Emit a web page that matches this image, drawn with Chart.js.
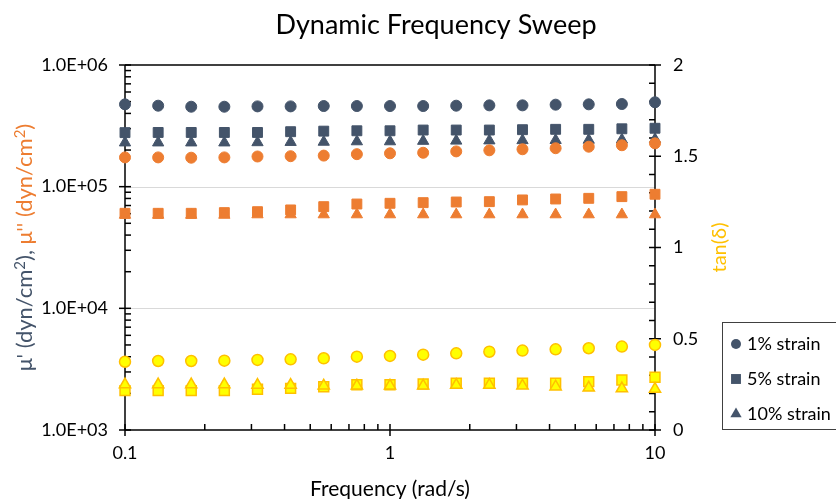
<!DOCTYPE html>
<html><head><meta charset="utf-8">
<script src="https://cdn.jsdelivr.net/npm/chart.js@4"></script>
<style>html,body{margin:0;padding:0;background:#fff;overflow:hidden}#wrap{width:836px;height:499px;position:relative}canvas{display:block}</style>
</head><body><div id="wrap"><canvas id="c" width="836" height="499"></canvas></div>
<script>
// ---- data ----
const frequency = [0.1, 0.1334, 0.1778, 0.2371, 0.3162, 0.4217, 0.5623, 0.7499, 1, 1.334, 1.778, 2.371, 3.162, 4.217, 5.623, 7.499, 10];
const storage1  = [4.75e5, 4.63e5, 4.54e5, 4.54e5, 4.57e5, 4.57e5, 4.6e5, 4.6e5, 4.6e5, 4.6e5, 4.63e5, 4.66e5, 4.66e5, 4.72e5, 4.75e5, 4.78e5, 4.94e5];
const storage5  = [2.78e5, 2.79e5, 2.79e5, 2.79e5, 2.79e5, 2.83e5, 2.86e5, 2.88e5, 2.88e5, 2.92e5, 2.92e5, 2.92e5, 2.94e5, 2.96e5, 2.96e5, 2.99e5, 3.02e5];
const storage10 = [2.3e5, 2.3e5, 2.3e5, 2.3e5, 2.31e5, 2.32e5, 2.33e5, 2.35e5, 2.35e5, 2.37e5, 2.38e5, 2.39e5, 2.4e5, 2.41e5, 2.42e5, 2.43e5, 2.45e5];
const loss1     = [1.74e5, 1.74e5, 1.73e5, 1.74e5, 1.77e5, 1.78e5, 1.8e5, 1.85e5, 1.88e5, 1.9e5, 1.95e5, 1.99e5, 2.03e5, 2.07e5, 2.13e5, 2.19e5, 2.27e5];
const loss5     = [6.04e4, 6.04e4, 6.04e4, 6.12e4, 6.23e4, 6.44e4, 6.85e4, 7.2e4, 7.3e4, 7.39e4, 7.48e4, 7.53e4, 7.78e4, 7.92e4, 8.02e4, 8.28e4, 8.66e4];
const loss10    = [5.85e4, 5.85e4, 5.85e4, 5.85e4, 5.9e4, 5.9e4, 5.9e4, 5.9e4, 5.9e4, 5.9e4, 5.9e4, 5.9e4, 5.9e4, 5.9e4, 5.9e4, 5.9e4, 5.9e4];
const tanDelta1  = [0.374, 0.378, 0.378, 0.38, 0.384, 0.387, 0.393, 0.402, 0.406, 0.413, 0.42, 0.429, 0.435, 0.442, 0.448, 0.457, 0.466];
const tanDelta5  = [0.216, 0.216, 0.216, 0.216, 0.223, 0.228, 0.237, 0.248, 0.248, 0.252, 0.256, 0.256, 0.256, 0.256, 0.265, 0.274, 0.289];
const tanDelta10 = [0.249, 0.249, 0.249, 0.249, 0.246, 0.246, 0.242, 0.242, 0.242, 0.242, 0.246, 0.246, 0.242, 0.237, 0.231, 0.227, 0.224];
const xTicks = [0.1, 1, 10];
const leftTicks = [1e3, 1e4, 1e5, 1e6];
const rightTicks = [0, 0.5, 1, 1.5, 2];
const legendLabels = ['1% strain', '5% strain', '10% strain'];
const chartTitle = 'Dynamic Frequency Sweep';
const xTitle = 'Frequency (rad/s)';
// [text, colour key, superscript?]
const leftTitleParts = [["\u03bc' (dyn/cm", 'blue', false], ['2', 'blue', true], ['), ', 'blue', false],
                        ["\u03bc'' (dyn/cm", 'orange', false], ['2', 'orange', true], [')', 'orange', false]];
const rightTitle = 'tan(\u03b4)';

// ---- styles ----
const BLUE = '#44546A', ORANGE = '#ED7D31', YEL_FILL = '#FFFF00', YEL_LINE = '#FFC000';
const FONT = 'Lato, "Noto Sans", sans-serif';
const styleFor = { circle: 5.5, rect: 7, triangle: 6.5 };

function pts(ys) { return frequency.map((f, i) => ({ x: f, y: ys[i] })); }
function ds(label, ys, axis, shape, fill, line, bw) {
  return { label, data: pts(ys), yAxisID: axis, pointStyle: shape, pointRadius: styleFor[shape],
    pointHoverRadius: styleFor[shape], backgroundColor: fill, borderColor: line, pointBorderWidth: bw,
    borderWidth: bw, showLine: false, clip: false };
}
const seq = [
  ds("μ' 1%", storage1, 'y', 'circle', BLUE, BLUE, 1),
  ds("μ' 5%", storage5, 'y', 'rect', BLUE, BLUE, 1),
  ds("μ' 10%", storage10, 'y', 'triangle', BLUE, BLUE, 1),
  ds("μ'' 1%", loss1, 'y', 'circle', ORANGE, ORANGE, 1),
  ds("μ'' 5%", loss5, 'y', 'rect', ORANGE, ORANGE, 1),
  ds("μ'' 10%", loss10, 'y', 'triangle', ORANGE, ORANGE, 1),
  ds('tan 1%', tanDelta1, 'y2', 'circle', YEL_FILL, YEL_LINE, 1.5),
  ds('tan 5%', tanDelta5, 'y2', 'rect', YEL_FILL, YEL_LINE, 1.5),
  ds('tan 10%', tanDelta10, 'y2', 'triangle', YEL_FILL, YEL_LINE, 1.5)
];
seq.forEach((d, i) => d.order = seq.length - i);

function line(ctx, x1, y1, x2, y2) { ctx.beginPath(); ctx.moveTo(x1, y1); ctx.lineTo(x2, y2); ctx.stroke(); }

const axesPlugin = {
  id: 'axesDraw',
  beforeDatasetsDraw(chart) {
    const { ctx, chartArea: a, scales } = chart;
    const x = scales.x, y = scales.y, y2 = scales.y2;
    ctx.save();
    ctx.strokeStyle = '#D9D9D9'; ctx.lineWidth = 1;
    leftTicks.forEach(v => {
      if (v === leftTicks[0] || v === leftTicks[leftTicks.length - 1]) return;
      const py = Math.round(y.getPixelForValue(v)) + 0.5;
      line(ctx, a.left, py, a.right, py);
    });
    ctx.strokeStyle = '#000'; ctx.lineWidth = 1.5;
    line(ctx, a.left, a.top, a.right, a.top);
    line(ctx, a.left, a.top, a.left, a.bottom);
    line(ctx, a.right, a.top, a.right, a.bottom);
    line(ctx, a.left, a.bottom, a.right, a.bottom);
    for (let d = 0; d < leftTicks.length; d++) {
      const dec = leftTicks[d];
      const py = y.getPixelForValue(dec);
      line(ctx, a.left - 6, py, a.left + 6, py);
      if (d < leftTicks.length - 1) {
        for (let m = 2; m <= 9; m++) { const p = y.getPixelForValue(dec * m); line(ctx, a.left, p, a.left + 6, p); }
      }
    }
    for (let i = 0; i < rightTicks.length; i++) {
      const v = rightTicks[i];
      const py = y2.getPixelForValue(v);
      line(ctx, a.right - 6, py, a.right + 6, py);
      if (i < rightTicks.length - 1) {
        for (let k = 1; k <= 4; k++) { const p = y2.getPixelForValue(v + k * 0.1); line(ctx, a.right - 6, p, a.right, p); }
      }
    }
    for (let i = 0; i < xTicks.length; i++) {
      const dec = xTicks[i];
      const px = x.getPixelForValue(dec);
      line(ctx, px, a.bottom - 6, px, a.bottom + 6);
      if (i < xTicks.length - 1) {
        for (let m = 2; m <= 9; m++) { const p = x.getPixelForValue(dec * m); line(ctx, p, a.bottom - 6, p, a.bottom); }
      }
    }
    ctx.restore();
  },
  afterDraw(chart) {
    const { ctx, chartArea: a } = chart;
    ctx.save();
    ctx.textBaseline = 'middle';
    ctx.fillStyle = '#000'; ctx.font = '27px ' + FONT; ctx.textAlign = 'center';
    ctx.fillText(chartTitle, 436, 25);
    ctx.font = '21px ' + FONT;
    ctx.fillText(xTitle, (a.left + a.right) / 2, 489);
    // left title, two colours with superscripts
    ctx.save();
    ctx.translate(25, (a.top + a.bottom) / 2);
    ctx.rotate(-Math.PI / 2);
    ctx.textAlign = 'left'; ctx.textBaseline = 'alphabetic';
    const mainFont = '22px ' + FONT, supFont = '15px ' + FONT;
    const widths = leftTitleParts.map(p => { ctx.font = p[2] ? supFont : mainFont; return ctx.measureText(p[0]).width; });
    let sx = -widths.reduce((s, w) => s + w, 0) / 2;
    leftTitleParts.forEach((p, i) => {
      ctx.font = p[2] ? supFont : mainFont;
      ctx.fillStyle = p[1] === 'blue' ? BLUE : ORANGE;
      ctx.fillText(p[0], sx, p[2] ? 0 : 7);
      sx += widths[i];
    });
    ctx.restore();
    ctx.save();
    ctx.translate(720, (a.top + a.bottom) / 2);
    ctx.rotate(-Math.PI / 2);
    ctx.font = '20px ' + FONT; ctx.textAlign = 'center'; ctx.fillStyle = YEL_LINE;
    ctx.fillText(rightTitle, 0, 0);
    ctx.restore();
    // legend
    ctx.strokeStyle = '#404040'; ctx.lineWidth = 1;
    ctx.strokeRect(722.5, 322.5, 130, 107);
    const shapes = ['circle', 'rect', 'triangle'];
    const rowsY = [344, 379, 414];
    ctx.font = '18px ' + FONT; ctx.textAlign = 'left';
    shapes.forEach((s, i) => {
      const cy = rowsY[i];
      ctx.fillStyle = BLUE;
      Chart.helpers.drawPoint(ctx, { pointStyle: s, radius: s === 'circle' ? 5 : (s === 'rect' ? 7 : 6.5), borderWidth: 0 }, 736, cy);
      ctx.fillStyle = '#000';
      ctx.fillText(legendLabels[i], 747, cy);
    });
    ctx.restore();
  }
};

new Chart(document.getElementById('c'), {
  type: 'scatter',
  data: { datasets: seq },
  options: {
    responsive: false, devicePixelRatio: 1, animation: false,
    layout: { padding: { top: 65, left: 0, right: 0, bottom: 0 } },
    plugins: { legend: { display: false }, title: { display: false }, tooltip: { enabled: false } },
    scales: {
      x: {
        type: 'logarithmic', min: 0.1, max: 10, position: 'bottom',
        grid: { display: false, drawTicks: false }, border: { display: false },
        afterBuildTicks: s => { s.ticks = xTicks.map(v => ({ value: v })); },
        afterFit: s => { s.height = 69; },
        ticks: { callback: v => String(v), font: { family: FONT, size: 18 }, color: '#000', padding: 12, maxRotation: 0, autoSkip: false }
      },
      y: {
        type: 'logarithmic', min: 1e3, max: 1e6, position: 'left',
        grid: { display: false, drawTicks: false }, border: { display: false },
        afterBuildTicks: s => { s.ticks = leftTicks.map(v => ({ value: v })); },
        afterFit: s => { s.width = 125; },
        ticks: { callback: v => '1.0E+' + String(Math.round(Math.log10(v))).padStart(2, '0'), font: { family: FONT, size: 18 }, color: '#000', padding: 17, autoSkip: false }
      },
      y2: {
        type: 'linear', min: 0, max: 2, position: 'right',
        grid: { display: false, drawTicks: false }, border: { display: false },
        afterBuildTicks: s => { s.ticks = rightTicks.map(v => ({ value: v })); },
        afterFit: s => { s.width = 181; },
        ticks: { callback: v => String(v), font: { family: FONT, size: 18 }, color: '#000', padding: 18, autoSkip: false }
      }
    }
  },
  plugins: [axesPlugin]
});
</script>
</body></html>
